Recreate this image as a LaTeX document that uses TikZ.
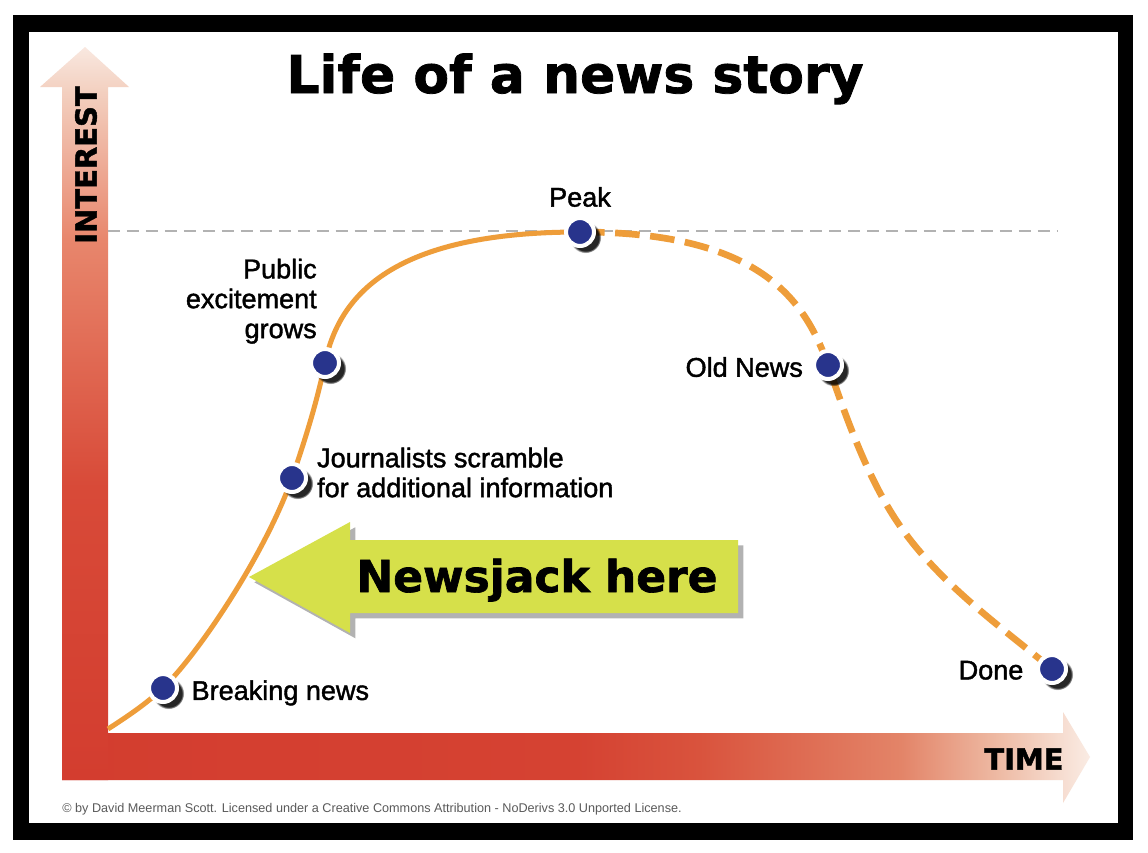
\documentclass[tikz,border=0pt]{standalone}
\usepackage{fontspec}
\setmainfont{Liberation Sans}
\newfontfamily\labelfont{Liberation Sans}[FakeBold=1.5]
\newfontfamily\heavyfont{DejaVu Sans}[BoldFeatures={FakeBold=1.5}]
\usepackage{tikz}
\usetikzlibrary{positioning, shadows}

\definecolor{storyorange}{RGB}{238,157,58}
\definecolor{dotblue}{RGB}{40,52,140}
\definecolor{jackyellow}{RGB}{214,224,74}
\definecolor{peakgray}{RGB}{178,178,178}
\definecolor{copygray}{RGB}{90,90,90}
\definecolor{axisred}{RGB}{211,61,47}
\definecolor{axispale}{RGB}{250,236,228}
\definecolor{timeA}{RGB}{213,66,50}
\definecolor{timeB}{RGB}{217,83,61}
\definecolor{timeC}{RGB}{227,132,104}
\definecolor{timeD}{RGB}{238,187,165}
\definecolor{intA}{RGB}{216,74,56}
\definecolor{intB}{RGB}{232,134,108}
\definecolor{intC}{RGB}{243,208,192}
\definecolor{intD}{RGB}{249,232,224}

\pgfdeclarehorizontalshading{timeshade}{100bp}{color(0bp)=(axisred); color(25bp)=(axisred); color(50bp)=(timeA); color(56bp)=(timeB); color(65.8bp)=(timeC); color(70.6bp)=(timeD); color(75bp)=(axispale); color(100bp)=(axispale)}
\pgfdeclareverticalshading{interestshade}{100bp}{color(0bp)=(axisred); color(25bp)=(axisred); color(45bp)=(intA); color(61.8bp)=(intB); color(72bp)=(intC); color(75bp)=(intD); color(100bp)=(intD)}

\begin{document}
\begin{tikzpicture}[
    x=0.02cm, y=-0.02cm,
    newsdot/.style={circle, fill=dotblue, draw=white, line width=2.3pt, minimum size=15.9pt, inner sep=0pt,
        circular drop shadow={shadow xshift=2.8pt, shadow yshift=-2.8pt, shadow scale=1.12, opacity=0.85, fill=black}},
    note/.style={inner sep=0pt, font=\labelfont\fontsize{15.4pt}{17pt}\selectfont},
    axistext/.style={inner sep=0pt, font=\heavyfont\bfseries\fontsize{16.5pt}{18pt}\selectfont},
    story/.style={draw=storyorange, line width=2.85pt},
    fadedstory/.style={story, line width=3.8pt, dash pattern=on 14pt off 6pt},
    peakline/.style={draw=peakgray, line width=1.4pt, dash pattern=on 6.8pt off 4pt},
]
\useasboundingbox (0,0) rectangle (1148,852);
\fill[white] (0,0) rectangle (1148,852);
\fill[black] (13,15) rectangle (1133,840);
\fill[white] (29,32) rectangle (1118,823);

\shade[shading=timeshade] (62,733) -- (1063,733) -- (1063,712) -- (1090,757) -- (1063,803) -- (1063,780) -- (62,780) -- cycle;
\shade[shading=interestshade] (62,780) -- (62,87) -- (40,87) -- (85,47) -- (129,87) -- (108,87) -- (108,780) -- cycle;
\node[axistext] (time) at (1024,759) {TIME};
\node[axistext, rotate=90] (interest) at (86,165) {INTEREST};

\node[inner sep=0pt, anchor=base, font=\heavyfont\bfseries\fontsize{29.6pt}{32pt}\selectfont] (title) at (575,93) {Life of a news story};

\draw[peakline] (108,231) -- (1058,231);

\coordinate (start) at (108,729);
\coordinate (brk) at (163,688);
\coordinate (jrn) at (292,478);
\coordinate (pub) at (325,363);
\coordinate (pk) at (580,232);
\coordinate (old) at (828,365);
\coordinate (done) at (1052,669);

\draw[story] (start) .. controls (128,716) and (146,704) .. (brk)
    .. controls (200,652) and (266,552) .. (jrn)
    .. controls (305,440) and (317,402) .. (pub)
    .. controls (340,290) and (400,232) .. (pk);
\draw[fadedstory] (pk) .. controls (760,232) and (805,300) .. (old)
    .. controls (846,417) and (867,477) .. (898,523)
    .. controls (937,581) and (997,624) .. (done);

\fill[jackyellow, drop shadow={shadow xshift=3pt, shadow yshift=-3pt, opacity=0.3, fill=black}] (738,540) -- (350,540) -- (350,522) -- (249,577) -- (350,633) -- (350,613) -- (738,613) -- cycle;
\node[inner sep=0pt, anchor=base, font=\heavyfont\bfseries\fontsize{25pt}{28pt}\selectfont] (jack) at (537,592) {Newsjack here};

\node[newsdot] (brkdot) at (brk) {};
\node[newsdot] (jrndot) at (jrn) {};
\node[newsdot] (pubdot) at (pub) {};
\node[newsdot] (pkdot) at (pk) {};
\node[newsdot] (olddot) at (old) {};
\node[newsdot] (donedot) at (done) {};

\node[note, right=7pt of brkdot, yshift=-2.8pt] (brktext) {Breaking news};
\node[note, align=left, right=5pt of jrndot, yshift=3.1pt] (jrntext) {Journalists scramble\\for additional information};
\node[note, align=right, above left=1.7pt and 4.5pt of pubdot.north] (pubtext) {Public\\excitement\\grows};
\node[note, above=5pt of pkdot] (pktext) {Peak};
\node[note, left=5pt of olddot, yshift=-1.2pt] (oldtext) {Old News};
\node[note, left=7pt of donedot, yshift=-0.7pt] (donetext) {Done};

\node[inner sep=0pt, anchor=base west, text=copygray, font=\fontsize{7.2pt}{8.5pt}\selectfont] (copy) at (62,812) {© by David Meerman Scott. Licensed under a Creative Commons Attribution - NoDerivs 3.0 Unported License.};
\end{tikzpicture}
\end{document}
